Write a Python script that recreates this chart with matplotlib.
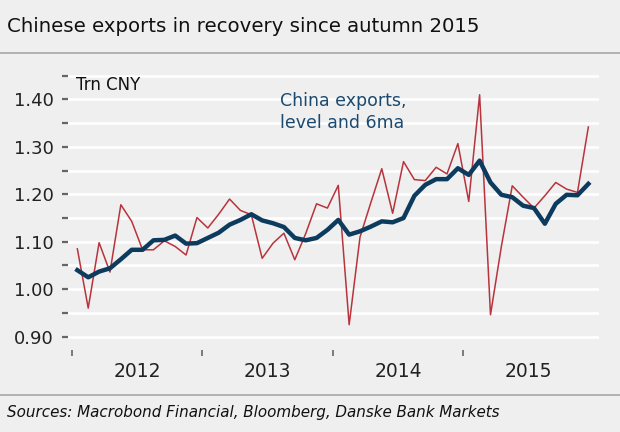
import numpy as np
import matplotlib
matplotlib.use('Agg')
import matplotlib.pyplot as plt
from matplotlib.lines import Line2D
from matplotlib.ticker import FixedLocator, NullFormatter

# monthly data, Jan 2012 - Dec 2015 (Trn CNY)
years = [2012, 2013, 2014, 2015]
exports_level = [
    1.085, 0.960, 1.098, 1.036, 1.178, 1.143, 1.083, 1.083, 1.102, 1.090, 1.072, 1.151,
    1.129, 1.158, 1.190, 1.166, 1.157, 1.065, 1.097, 1.118, 1.062, 1.117, 1.180, 1.171,
    1.219, 0.925, 1.110, 1.183, 1.254, 1.160, 1.269, 1.231, 1.229, 1.257, 1.243, 1.307,
    1.185, 1.410, 0.946, 1.090, 1.218, 1.194, 1.171, 1.197, 1.225, 1.211, 1.204, 1.342,
]
exports_6ma = [
    1.040, 1.025, 1.037, 1.044, 1.063, 1.083, 1.083, 1.103, 1.104, 1.113, 1.096, 1.097,
    1.108, 1.119, 1.136, 1.146, 1.158, 1.145, 1.139, 1.131, 1.108, 1.103, 1.108, 1.125,
    1.146, 1.115, 1.122, 1.132, 1.143, 1.141, 1.150, 1.197, 1.220, 1.232, 1.232, 1.255,
    1.241, 1.271, 1.225, 1.199, 1.194, 1.176, 1.171, 1.138, 1.180, 1.199, 1.198, 1.222,
]
y_major = [0.90, 1.00, 1.10, 1.20, 1.30, 1.40]
y_minor = [0.95, 1.05, 1.15, 1.25, 1.35, 1.45]

title = 'Chinese exports in recovery since autumn 2015'
source = 'Sources: Macrobond Financial, Bloomberg, Danske Bank Markets'

BG = '#efefef'
RED = '#b8343c'
NAVY = '#0d3b5e'
TEXT_BLUE = '#1b4a70'
W, H = 620, 432

fig = plt.figure(figsize=(W / 100, H / 100), dpi=100, facecolor=BG)

# separator lines
fig.add_artist(Line2D([0, 1], [1 - 53 / H, 1 - 53 / H], transform=fig.transFigure,
                      color='#a8a8a8', lw=1.2))
fig.add_artist(Line2D([0, 1], [1 - 395 / H, 1 - 395 / H], transform=fig.transFigure,
                      color='#a8a8a8', lw=1.2))

fig.text(7 / W, 1 - 27 / H, title, fontsize=14.2, fontweight='medium', va='center',
         ha='left', color='#111111')
fig.text(7 / W, 1 - 413 / H, source, fontsize=10.9, style='italic', va='center',
         ha='left', color='#111111')

left, right, top, bottom = 68, 599, 72, 356
ax = fig.add_axes([left / W, 1 - bottom / H, (right - left) / W, (bottom - top) / H])
ax.set_facecolor(BG)

x = [years[0] + (i + 0.5) / 12 for i in range(len(exports_level))]

ax.plot(x, exports_level, color=RED, lw=1.1, zorder=3)
ax.plot(x, exports_6ma, color=NAVY, lw=3.2, zorder=4, solid_joinstyle='round')

ax.set_xlim(2011.97, 2016.04)
ax.set_ylim(0.859, 1.458)

for v in y_major + y_minor:
    ax.axhline(v, color='white', lw=1.8, zorder=1)

ax.yaxis.set_major_locator(FixedLocator(y_major))
ax.yaxis.set_minor_locator(FixedLocator(y_minor))
ax.set_yticklabels([f'{v:.2f}' for v in y_major])
ax.tick_params(axis='y', which='both', length=4, width=1.6, color='#666666',
               labelsize=13, pad=6.5, labelcolor='#222222')

ax.xaxis.set_major_locator(FixedLocator(years))
ax.xaxis.set_major_formatter(NullFormatter())
ax.xaxis.set_minor_locator(FixedLocator([y + 0.5 for y in years]))
ax.set_xticklabels([str(y) for y in years], minor=True)
ax.tick_params(axis='x', which='major', direction='in', length=4, width=1.2,
               color='#666666')
ax.tick_params(axis='x', which='minor', length=0, labelsize=13.5, pad=4,
               labelcolor='#222222')

for s in ax.spines.values():
    s.set_visible(False)

ax.text(0.016, 0.955, 'Trn CNY', transform=ax.transAxes, fontsize=12,
        va='center', ha='left', color='#111111')
ax.text(0.40, 0.86, 'China exports,\nlevel and 6ma', transform=ax.transAxes,
        fontsize=12.5, va='center', ha='left', color=TEXT_BLUE, linespacing=1.25)

fig.savefig('out.png', dpi=100, facecolor=BG)
